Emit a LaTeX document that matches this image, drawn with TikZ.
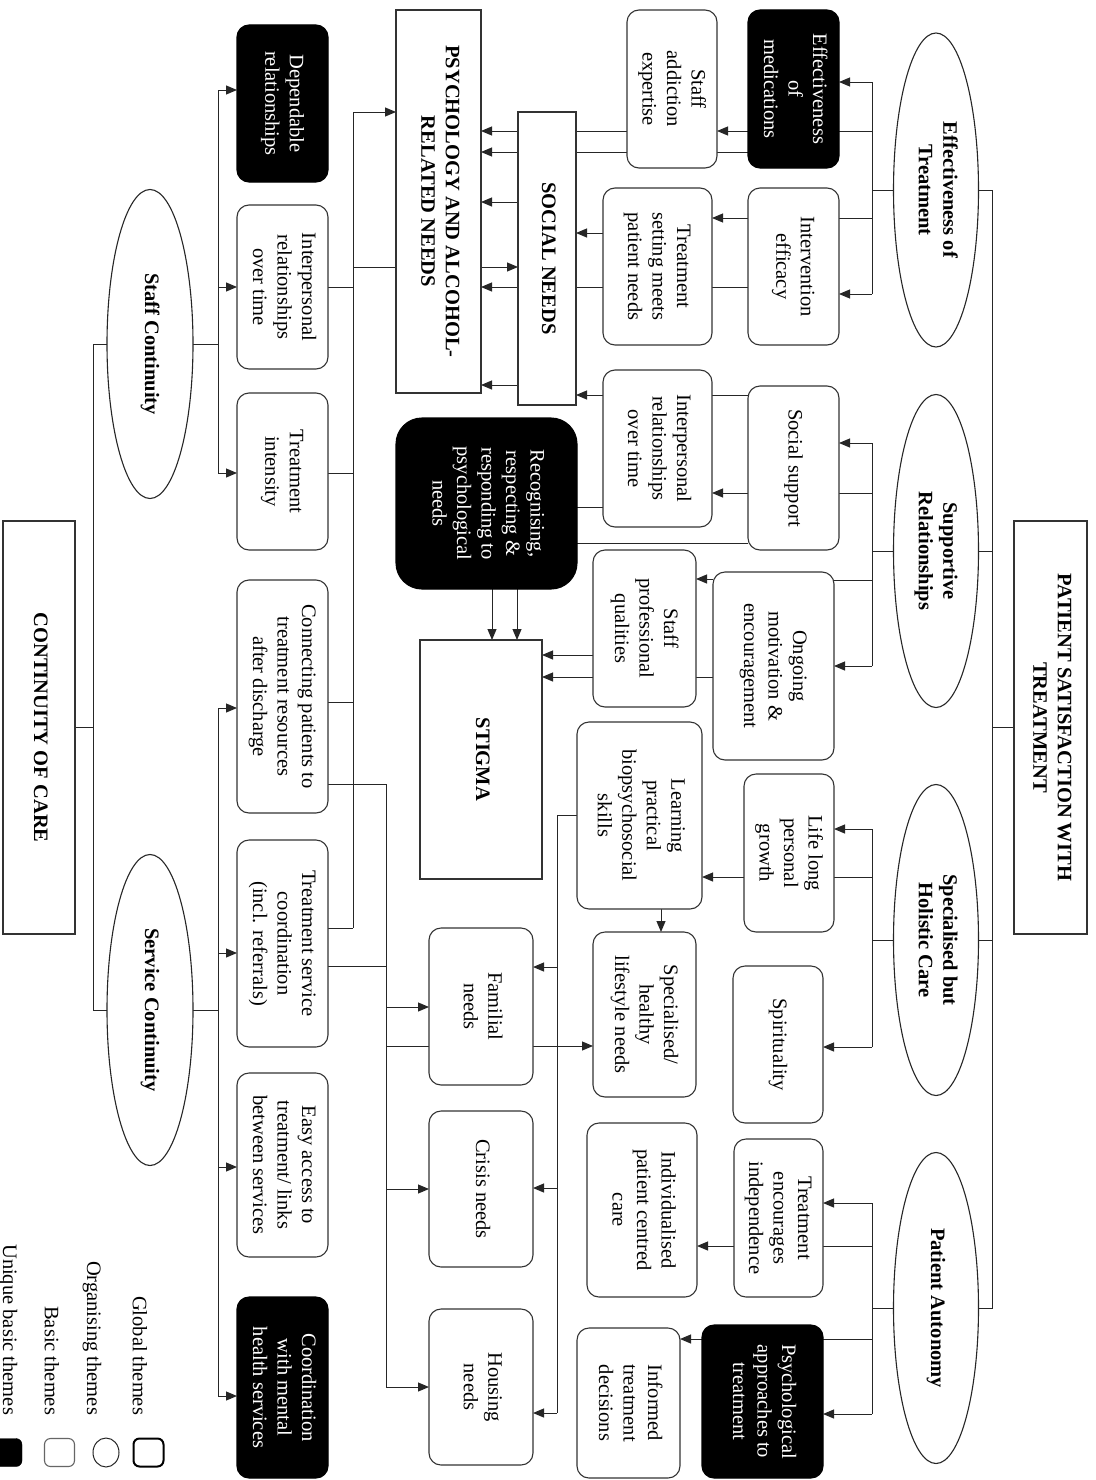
\documentclass[tikz,border=0pt]{standalone}
\usepackage{fontspec}
\setmainfont{Liberation Serif}
\usetikzlibrary{shapes.geometric,arrows.meta}
\pgfdeclarelayer{paper}
\pgfdeclarelayer{wires}
\pgfsetlayers{paper,wires,main}
% text set top-to-bottom
\newcommand\vtext[1]{\rotatebox{-90}{\begin{tabular}{@{}c@{}}#1\end{tabular}}}
% box from its corners (x1,y1)-(x2,y2), y measured downwards
\newcommand\themebox[7]{%
  \pgfmathsetmacro\bxw{#5-#3}\pgfmathsetmacro\bxh{#6-#4}%
  \node[#1, minimum width=\bxw pt, minimum height=\bxh pt] (#2)
    at ({(#3+#5)/2},{-(#4+#6)/2}) {\vtext{#7}};}
% horizontal wire at height y between two anchors
\newcommand\hwire[4][ln]{\draw[#1] (#2 |- 0,-#4) -- (#3 |- 0,-#4);}
\begin{document}
\begin{tikzpicture}[x=1pt,y=1pt,
  ln/.style={draw=black!85,line width=1pt},
  arr/.style={ln,-{Triangle[length=11pt,width=9pt]}},
  txt/.style={font=\fontsize{20.5}{24.5}\selectfont, inner sep=0pt, outer sep=0pt},
  basicbox/.style={txt, rectangle, draw=black!80, line width=1.1pt, fill=white, rounded corners=12pt},
  uniquebox/.style={basicbox, draw=black, fill=black, text=white},
  recogbox/.style={uniquebox, rounded corners=26pt},
  globalbox/.style={txt, rectangle, draw=black!80, line width=1.2pt, fill=white,
    font=\fontsize{20.5}{24.5}\selectfont\bfseries},
  orgell/.style={txt, ellipse, draw=black!85, line width=1.1pt, fill=white,
    font=\fontsize{20.5}{24.5}\selectfont\bfseries},
  legtext/.style={txt, anchor=south}]

\begin{pgfonlayer}{paper}
  \fill[white] (0,0) rectangle (1095,-1480);
\end{pgfonlayer}
\useasboundingbox (0,0) rectangle (1095,-1480);

% wire columns
\coordinate (trunk) at (992,0);
\coordinate (busR) at (872,0);
\coordinate (busC) at (93,0);
\coordinate (busL) at (218,0);
\coordinate (colA) at (353,0);
\coordinate (colB) at (386,0);
\coordinate (colC) at (557,0);

% ---------- global themes ----------
\themebox{globalbox}{PST}{1014}{521}{1087}{934}{PATIENT SATISFACTION WITH\\TREATMENT}
\themebox{globalbox}{CONT}{3}{521}{75}{934}{CONTINUITY OF CARE}
\themebox{globalbox}{PSYCH}{396}{10}{481}{393}{PSYCHOLOGY AND ALCOHOL-\\RELATED NEEDS}
\themebox{globalbox}{SOCIAL}{518}{112}{576}{405}{SOCIAL NEEDS}
\themebox{globalbox}{STIGMA}{420}{640}{542}{879}{STIGMA}

% ---------- organising themes ----------
\node[orgell, minimum width=85pt, minimum height=314pt] (ET) at (936,-190) {\vtext{Effectiveness of\\Treatment}};
\node[orgell, minimum width=85pt, minimum height=313pt] (SR) at (936,-551) {\vtext{Supportive\\Relationships}};
\node[orgell, minimum width=85pt, minimum height=311pt] (SH) at (936,-940) {\vtext{Specialised but\\Holistic Care}};
\node[orgell, minimum width=85pt, minimum height=311pt] (PA) at (936,-1308) {\vtext{Patient Autonomy}};
\node[orgell, minimum width=86pt, minimum height=309pt] (SC) at (150,-344) {\vtext{Staff Continuity}};
\node[orgell, minimum width=86pt, minimum height=311pt] (SvC) at (150,-1010) {\vtext{Service Continuity}};

% ---------- basic themes, right half ----------
\themebox{uniquebox}{EffMed}{748}{10}{839}{168}{Effectiveness\\of\\medications}
\themebox{basicbox}{IntEff}{748}{188}{839}{345}{Intervention\\efficacy}
\themebox{basicbox}{StaffAdd}{627}{10}{717}{168}{Staff\\addiction\\expertise}
\themebox{basicbox}{TreatSet}{603}{188}{712}{345}{Treatment\\setting meets\\patient needs}
\themebox{basicbox}{SocSupp}{748}{386}{839}{550}{Social support}
\themebox{basicbox}{InterR}{603}{370}{712}{527}{Interpersonal\\relationships\\over time}
\themebox{basicbox}{Ongoing}{713}{572}{834}{760}{Ongoing\\motivation \&\\encouragement}
\themebox{basicbox}{StaffProf}{593}{550}{696}{707}{Staff\\professional\\qualities}
\themebox{recogbox}{Recog}{396}{418}{577}{589}{Recognising,\\respecting \&\\responding to\\psychological\\needs}
\themebox{basicbox}{LifeLong}{744}{774}{834}{932}{Life long\\personal\\growth}
\themebox{basicbox}{Spirit}{733}{966}{823}{1123}{Spirituality}
\themebox{basicbox}{Learning}{577}{722}{702}{909}{Learning\\practical\\biopsychosocial\\skills}
\themebox{basicbox}{SpecHealthy}{593}{932}{696}{1097}{Specialised/\\healthy\\lifestyle needs}
\themebox{basicbox}{TreatEnc}{734}{1139}{823}{1297}{Treatment\\encourages\\independence}
\themebox{basicbox}{Individ}{587}{1123}{697}{1297}{Individualised\\patient centred\\care}
\themebox{uniquebox}{PsychApp}{702}{1325}{823}{1478}{Psychological\\approaches to\\treatment}
\themebox{basicbox}{Informed}{577}{1328}{680}{1478}{Informed\\treatment\\decisions}
\themebox{basicbox}{Familial}{429}{928}{533}{1085}{Familial\\needs}
\themebox{basicbox}{Crisis}{429}{1111}{533}{1267}{Crisis needs}
\themebox{basicbox}{Housing}{429}{1309}{533}{1465}{Housing\\needs}

% ---------- basic themes, left column ----------
\themebox{uniquebox}{Depend}{237}{25}{328}{182}{Dependable\\relationships}
\themebox{basicbox}{InterL}{237}{205}{328}{369}{Interpersonal\\relationships\\over time}
\themebox{basicbox}{TreatInt}{237}{393}{328}{550}{Treatment\\intensity}
\themebox{basicbox}{Connect}{237}{580}{328}{813}{Connecting patients to\\treatment resources\\after discharge}
\themebox{basicbox}{TSC}{237}{840}{328}{1047}{Treatment service\\coordination\\(incl. referrals)}
\themebox{basicbox}{Easy}{237}{1073}{328}{1257}{Easy access to\\treatment/ links\\between services}
\themebox{uniquebox}{Coord}{237}{1297}{328}{1478}{Coordination\\with mental\\health services}

% ---------- legend ----------
\node[legtext] (lgG) at (140,-1415) {\rotatebox{-90}{Global themes}};
\node[legtext] (lgO) at (92,-1415) {\rotatebox{-90}{Organising themes}};
\node[legtext] (lgB) at (52,-1415) {\rotatebox{-90}{Basic themes}};
\node[legtext] (lgU) at (8,-1415) {\rotatebox{-90}{Unique basic themes}};
\node[rectangle, draw=black, line width=2pt, rounded corners=6pt, minimum width=30pt, minimum height=28pt] (keyG) at (148.5,-1452.5) {};
\node[ellipse, draw=black!85, line width=1pt, minimum width=26pt, minimum height=29pt] (keyO) at (106,-1452.5) {};
\node[rectangle, draw=black!60, line width=1.1pt, rounded corners=6pt, minimum width=30pt, minimum height=28pt] (keyB) at (59.5,-1452.5) {};
\node[rectangle, draw=black, fill=black, rounded corners=6pt, minimum width=30pt, minimum height=28pt] (keyU) at (7,-1452.5) {};

% ---------- connectors ----------
\begin{pgfonlayer}{wires}
  % patient satisfaction trunk
  \draw[ln] (ET.east) -| (trunk |- PA.east) -- (PA.east);
  \draw[ln] (SR.east) -- (SR.east -| trunk);
  \draw[ln] (SH.east) -- (SH.east -| trunk);
  \hwire{PST.west}{trunk}{727}

  % effectiveness of treatment
  \draw[ln] (ET.west) -- (ET.west -| busR);
  \draw[ln] (busR |- 0,-82) -- (busR |- 0,-294);
  \hwire[arr]{busR}{EffMed.east}{82}
  \hwire{EffMed.east}{busR}{131}
  \hwire{IntEff.east}{busR}{218}
  \hwire[arr]{busR}{IntEff.east}{294}
  \hwire[arr]{EffMed.west}{StaffAdd.east}{131}
  \hwire[arr]{StaffAdd.west}{PSYCH.east}{131}
  \hwire[arr]{EffMed.west}{PSYCH.east}{152}
  \hwire[arr]{IntEff.west}{TreatSet.east}{218}
  \hwire[arr]{IntEff.west}{PSYCH.east}{287}
  \hwire[arr]{TreatSet.west}{SOCIAL.east}{233}
  \hwire[arr]{SOCIAL.west}{PSYCH.east}{202}
  \hwire[arr]{SOCIAL.west}{PSYCH.east}{385}
  \hwire[arr]{SocSupp.west}{SOCIAL.east}{395}

  % supportive relationships
  \draw[ln] (SR.west) -- (SR.west -| busR);
  \draw[ln] (busR |- 0,-443) -- (busR |- 0,-666);
  \hwire[arr]{busR}{SocSupp.east}{443}
  \hwire{SocSupp.east}{busR}{493}
  \hwire{Ongoing.east}{busR}{580}
  \hwire[arr]{busR}{Ongoing.east}{666}
  \hwire[arr]{SocSupp.west}{InterR.east}{493}
  \hwire{InterR.west}{Recog.east}{507}
  \hwire{SocSupp.west}{Recog.east}{543}
  \hwire[arr]{Ongoing.west}{StaffProf.east}{579}
  \hwire[arr]{Ongoing.west}{STIGMA.east}{677}
  \hwire[arr]{StaffProf.west}{STIGMA.east}{655}
  \draw[arr] (Recog.south -| 492,0) -- (STIGMA.north -| 492,0);
  \draw[arr] (Recog.south -| 517,0) -- (STIGMA.north -| 517,0);

  % specialised but holistic care
  \draw[ln] (SH.west) -- (SH.west -| busR);
  \draw[ln] (busR |- 0,-829) -- (busR |- 0,-1047);
  \hwire[arr]{busR}{LifeLong.east}{829}
  \hwire{LifeLong.east}{busR}{877}
  \hwire[arr]{busR}{Spirit.east}{1047}
  \hwire[arr]{LifeLong.west}{Learning.east}{877}
  \draw[arr] (Learning.south -| 661,0) -- (SpecHealthy.north -| 661,0);
  \draw[ln] (Learning.west |- 0,-815) -| (colC |- 0,-1413);
  \hwire[arr]{colC}{Familial.east}{967}
  \hwire[arr]{colC}{Crisis.east}{1188}
  \hwire[arr]{colC}{Housing.east}{1413}

  % patient autonomy
  \draw[ln] (PA.west) -- (PA.west -| busR);
  \draw[ln] (busR |- 0,-1203) -- (busR |- 0,-1414);
  \hwire[arr]{busR}{TreatEnc.east}{1203}
  \hwire{TreatEnc.east}{busR}{1246}
  \hwire{PsychApp.east}{busR}{1339}
  \hwire[arr]{busR}{PsychApp.east}{1414}
  \hwire[arr]{TreatEnc.west}{Individ.east}{1246}
  \hwire[arr]{PsychApp.west}{Informed.east}{1339}

  % continuity of care
  \hwire{CONT.east}{busC}{727}
  \draw[ln] (SC.west) -| (busC |- SvC.west) -- (SvC.west);
  \draw[ln] (SC.east) -- (SC.east -| busL);
  \draw[ln] (busL |- 0,-90) -- (busL |- 0,-473);
  \hwire[arr]{busL}{Depend.west}{90}
  \hwire[arr]{busL}{InterL.west}{287}
  \hwire[arr]{busL}{TreatInt.west}{473}
  \draw[ln] (SvC.east) -- (SvC.east -| busL);
  \draw[ln] (busL |- 0,-708) -- (busL |- 0,-1396);
  \hwire[arr]{busL}{Connect.west}{708}
  \hwire[arr]{busL}{TSC.west}{953}
  \hwire[arr]{busL}{Easy.west}{1167}
  \hwire[arr]{busL}{Coord.west}{1396}

  % staff-side needs feed
  \draw[ln] (colA |- 0,-112) -- (colA |- 0,-928);
  \hwire[arr]{colA}{PSYCH.west}{112}
  \hwire[arr]{colA}{SOCIAL.west}{267}
  \hwire{InterL.east}{colA}{287}
  \hwire{TreatInt.east}{colA}{473}
  \hwire{Connect.east}{colA}{702}
  \hwire{TSC.east}{colA}{928}

  % service-side needs feed
  \draw[ln] (Connect.east |- 0,-784) -| (colB |- 0,-1387);
  \hwire{TSC.east}{colB}{966}
  \hwire[arr]{colB}{Familial.west}{1007}
  \hwire[arr]{colB}{SpecHealthy.west}{1046}
  \hwire[arr]{colB}{Crisis.west}{1189}
  \hwire[arr]{colB}{Housing.west}{1387}
\end{pgfonlayer}
\end{tikzpicture}
\end{document}
